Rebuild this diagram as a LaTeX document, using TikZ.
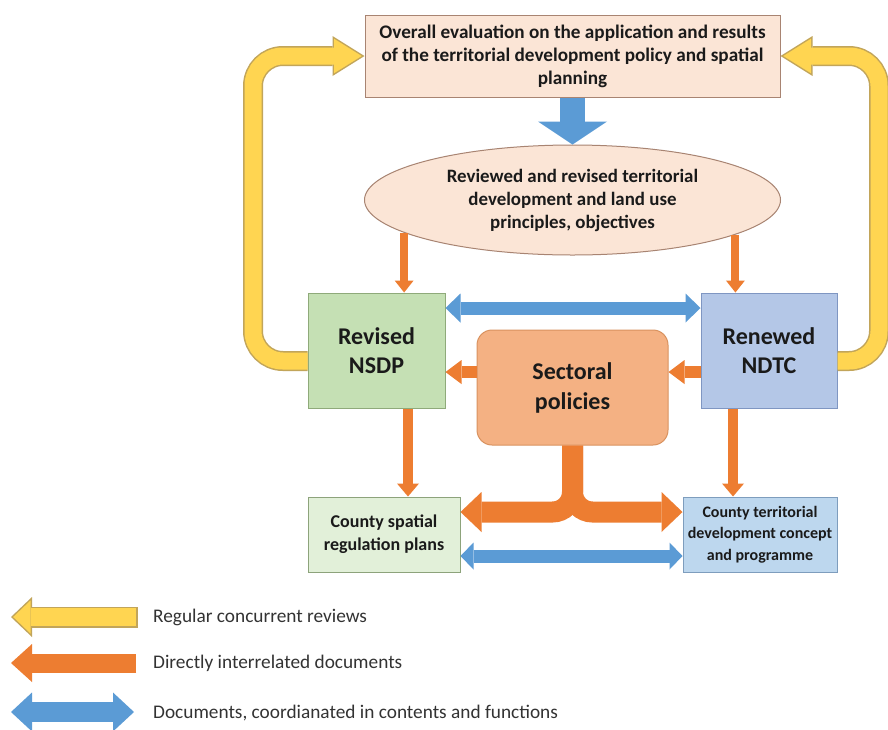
\documentclass[tikz,border=0pt]{standalone}
\usepackage{fontspec}
\setmainfont{Carlito}
\usetikzlibrary{arrows.meta,shapes.geometric,calc}
\definecolor{peach}{HTML}{FBE5D6}
\definecolor{peachd}{HTML}{A88472}
\definecolor{grn}{HTML}{C5E0B4}
\definecolor{grnd}{HTML}{8FAA7A}
\definecolor{lgrn}{HTML}{E2F0D9}
\definecolor{lgrnd}{HTML}{8DA37B}
\definecolor{blu}{HTML}{B4C7E7}
\definecolor{blud}{HTML}{7F96C2}
\definecolor{lblu}{HTML}{BDD7EE}
\definecolor{lblud}{HTML}{7E9DBD}
\definecolor{sectc}{HTML}{F4B183}
\definecolor{sectd}{HTML}{D9925F}
\definecolor{ylw}{HTML}{FFD551}
\definecolor{ylwd}{HTML}{C2A55A}
\definecolor{org}{HTML}{ED7D31}
\definecolor{blueA}{HTML}{5B9BD5}
\definecolor{txt}{HTML}{1A1A1A}
\definecolor{legtxt}{HTML}{333333}
\begin{document}
\begin{tikzpicture}[x=1pt,y=-1pt,
  box/.style={draw, line width=1pt, inner sep=0pt, align=center, text=txt},
  midtext/.style={font=\bfseries\fontsize{19.2}{23}\selectfont},
  bigtext/.style={font=\bfseries\fontsize{24}{29}\selectfont},
  arr/.style n args={3}{line width=#1, arrows={-Triangle[length=#2,width=#3,line width=0pt]}},
  dbl/.style n args={3}{line width=#1, arrows={Triangle[length=#2,width=#3,line width=0pt]-Triangle[length=#2,width=#3,line width=0pt]}},
  yout/.style={ylwd, line width=20pt, rounded corners=30pt, arrows={-Triangle[length=32pt,width=40pt,line width=0pt]}},
  yin/.style={ylw, line width=17pt, rounded corners=30pt, shorten >=2.8pt, arrows={-Triangle[length=27.7pt,width=34.6pt,line width=0pt]}},
  leg/.style={anchor=west, inner sep=0pt, text=legtxt, font=\fontsize{19.3}{22}\selectfont}
]
\useasboundingbox (0,0) rectangle (888,729);
\fill[white] (0,0) rectangle (888,729);

% nodes
\node[box, midtext, fill=peach, draw=peachd, minimum width=415pt, minimum height=82pt] (top) at (572.5,56)
  {Overall evaluation on the application and results\\of the territorial development policy and spatial\\planning};
\node[box, font=\bfseries\fontsize{18.9}{23}\selectfont, ellipse, fill=peach, draw=peachd, minimum width=416pt, minimum height=110pt] (ell) at (572.5,200)
  {Reviewed and revised territorial\\development and land use\\principles, objectives};
\node[box, bigtext, fill=grn, draw=grnd, minimum width=137pt, minimum height=115pt] (nsdp) at (376.5,350.5) {Revised\\NSDP};
\node[box, bigtext, fill=blu, draw=blud, minimum width=136pt, minimum height=115pt] (ndtc) at (769,350.5) {Renewed\\NDTC};
\node[box, font=\bfseries\fontsize{24}{30}\selectfont, fill=sectc, draw=sectd, rounded corners=15pt, minimum width=191pt, minimum height=115pt] (sect) at (572.5,387.5) {Sectoral\\policies};
\node[box, font=\bfseries\fontsize{18}{23}\selectfont, fill=lgrn, draw=lgrnd, minimum width=152pt, minimum height=75pt] (cs) at (384,534.5) {County spatial\\regulation plans};
\node[box, font=\bfseries\fontsize{16}{21.5}\selectfont, fill=lblu, draw=lblud, minimum width=154pt, minimum height=75pt] (ct) at (760,534.5) {County territorial\\development concept\\and programme};

% helper coordinates
\coordinate (xl) at (408,0);
\coordinate (xr) at (733,0);
\coordinate (ym) at (0,372);
\coordinate (yb) at (0,512);
\coordinate (yt) at (0,308);
\coordinate (yc) at (0,556);
\coordinate (yy) at (0,361);
\coordinate (xyl) at (253,0);
\coordinate (xyr) at (879,0);

% blue down arrow
\draw[blueA, arr={25pt}{23pt}{69pt}] (top.south) -- (ell.north);

% thin orange arrows from ellipse
\draw[org, arr={8pt}{12pt}{19pt}] (ell.191.75) -- (ell.191.75 |- nsdp.north);
\draw[org, arr={8pt}{12pt}{19pt}] (ell.-12.3) -- (ell.-12.3 |- ndtc.north);

% orange down to county boxes
\draw[org, arr={10pt}{13pt}{22pt}] (nsdp.south -| xl) -- (cs.north -| xl);
\draw[org, arr={10pt}{13pt}{22pt}] (ndtc.south -| xr) -- (ct.north -| xr);

% orange horizontal to NSDP / sectoral
\draw[org, arr={12pt}{16pt}{24pt}] (sect.west |- ym) -- (nsdp.east |- ym);
\draw[org, arr={12pt}{16pt}{24pt}] (ndtc.west |- ym) -- (sect.east |- ym);

% sectoral branches
\draw[org, rounded corners=20pt, arr={21pt}{21pt}{40pt}] (sect.south) -- (sect.south |- yb) -- (cs.east |- yb);
\draw[org, rounded corners=20pt, arr={21pt}{21pt}{40pt}] (sect.south) -- (sect.south |- yb) -- (ct.west |- yb);

% blue double arrows
\draw[blueA, dbl={13pt}{15pt}{29pt}] (nsdp.east |- yt) -- (ndtc.west |- yt);
\draw[blueA, dbl={13pt}{13pt}{27pt}] (cs.east |- yc) -- (ct.west |- yc);

% yellow review arrows
\draw[yout] (nsdp.west |- yy) -- (xyl |- yy) -- (xyl |- top.west) -- (top.west);
\draw[yin]  (nsdp.west |- yy) -- (xyl |- yy) -- (xyl |- top.west) -- (top.west);
\draw[yout] (ndtc.east |- yy) -- (xyr |- yy) -- (xyr |- top.east) -- (top.east);
\draw[yin]  (ndtc.east |- yy) -- (xyr |- yy) -- (xyr |- top.east) -- (top.east);

% legend
\coordinate (l1s) at (137.5,617);
\coordinate (l1i) at (136,617);
\coordinate (l1e) at (11,617);
\draw[ylwd, arr={21pt}{21pt}{40pt}] (l1s) -- (l1e);
\draw[ylw, line width=18pt, shorten >=2.2pt, arrows={-Triangle[length=17.3pt,width=33pt,line width=0pt]}] (l1i) -- (l1e);
\coordinate (l2s) at (136,663);
\coordinate (l2e) at (11,663);
\draw[org, arr={19pt}{21pt}{38pt}] (l2s) -- (l2e);
\coordinate (l3s) at (11,712);
\coordinate (l3e) at (134,712);
\draw[blueA, dbl={20pt}{21pt}{39pt}] (l3s) -- (l3e);
\node[leg] (t1) at (153,617) {Regular concurrent reviews};
\node[leg] (t2) at (153,663) {Directly interrelated documents};
\node[leg] (t3) at (153,713) {Documents, coordianated in contents and functions};
\end{tikzpicture}
\end{document}
